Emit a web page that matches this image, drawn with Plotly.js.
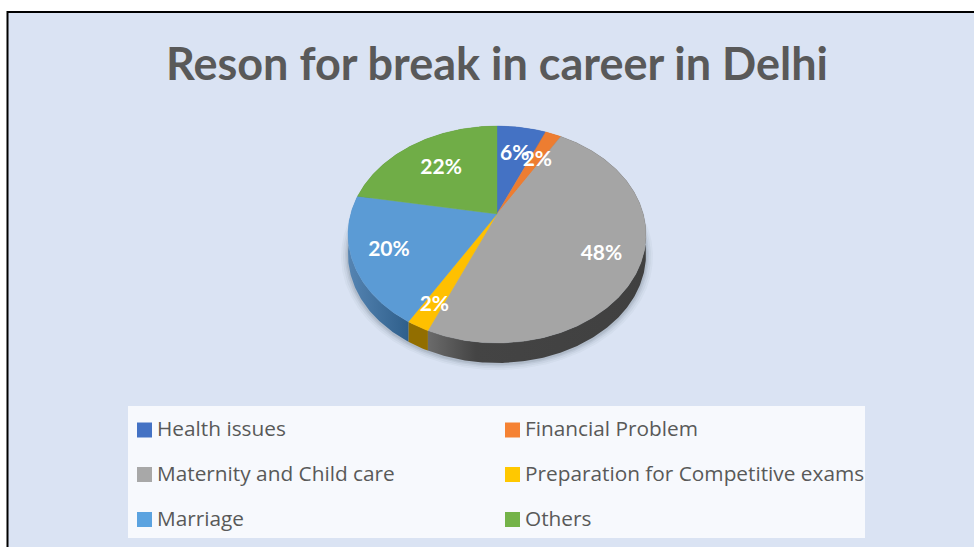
<!DOCTYPE html>
<html>
<head>
<meta charset="utf-8">
<script src="https://cdn.plot.ly/plotly-3.0.1.min.js"></script>
<style>html,body{margin:0;padding:0;background:#fff}#chart{width:974px;height:547px}</style>
</head>
<body>
<div id="chart"></div>
<script>
// Reasons for a career break, in percent of responses
const categories = ['Health issues', 'Financial Problem', 'Maternity and Child care',
  'Preparation for Competitive exams', 'Marriage', 'Others'];
const shares = [6, 2, 48, 2, 20, 22];
const percentLabels = ['6%', '2%', '48%', '2%', '20%', '22%'];
const topColors = ['#4472c4', '#ed7d31', '#a5a5a5', '#ffc000', '#5b9bd5', '#70ad47'];
const legendColors = ['#4472c4', '#f58233', '#a8a8a8', '#ffc800', '#5ba3e0', '#74b349'];
const labelRadius = [0.68, 0.67, 0.75, 0.82, 0.76, 0.65];
const labelTurn = [0, 0.5, 3.5, 0, 0, 1.5];

const W = 974, H = 547;
const apexX = 497, apexY = 214;          // pie centre on the page
const A = 146.3, B = 104.6, K = 0.189;   // tilted-disc projection
const WARP = 1.07;                       // widens slices near the vertical, as the tilt does
const DEPTH = 20;
const LABEL_DROP = 2.5;

// Project a point of the unit disc on to the tilted plane (y up, axes in page pixels)
function project(r, deg) {
  let t = deg * Math.PI / 180;
  const s = Math.sin(t), c = Math.cos(t);
  t += Math.atan2((WARP - 1) * s * c, c * c + WARP * s * s);
  const x = r * Math.sin(t), y = r * Math.cos(t), d = 1 + K * y;
  return [A * x / d, B * y / d];
}
function rimPoints(a0, a1) {
  const n = Math.max(2, Math.ceil((a1 - a0) * 1.5));
  const out = [];
  for (let i = 0; i <= n; i++) out.push(project(1, a0 + (a1 - a0) * i / n));
  return out;
}
const total = shares.reduce((s, v) => s + v, 0);
const bounds = [0];
shares.forEach(v => bounds.push(bounds[bounds.length - 1] + v / total * 360));

const base = {type: 'scatter', mode: 'lines', fill: 'toself', hoverinfo: 'skip', showlegend: false};
const traces = [];

// Soft shadow under the front of the pie
[[7, 0.035], [5, 0.05], [3, 0.07], [1.5, 0.09]].forEach(([grow, alpha]) => {
  const ring = rimPoints(0, 360);
  traces.push(Object.assign({}, base, {
    x: ring.map(p => p[0] * (1 + grow / 150)),
    y: ring.map(p => p[1] * (1 + grow / 150) - DEPTH - 1),
    fillcolor: 'rgba(40,50,70,' + alpha + ')', line: {width: 0}
  }));
});

// Side wall of each slice
const sideStyle = [
  {fillcolor: '#2f528f'}, {fillcolor: '#ae5a21'},
  {fillgradient: {type: 'horizontal', colorscale: [[0, '#6b6b6b'], [0.22, '#444444'], [1, '#404040']]}},
  {fillcolor: '#926e00'},
  {fillgradient: {type: 'horizontal', colorscale: [[0, '#5584b2'], [1, '#2f5f8b']]}},
  {fillcolor: '#4e7a32'}
];
shares.forEach((v, i) => {
  const rim = rimPoints(bounds[i], bounds[i + 1]);
  const low = rim.slice().reverse().map(p => [p[0], p[1] - DEPTH]);
  const poly = rim.concat(low);
  traces.push(Object.assign({}, base, sideStyle[i], {
    x: poly.map(p => p[0]), y: poly.map(p => p[1]), line: {width: 0}
  }));
});

// Top face of each slice
shares.forEach((v, i) => {
  const poly = [[0, 0]].concat(rimPoints(bounds[i], bounds[i + 1]), [[0, 0]]);
  traces.push(Object.assign({}, base, {
    name: categories[i],
    x: poly.map(p => p[0]), y: poly.map(p => p[1]),
    fillcolor: topColors[i], line: {color: topColors[i], width: 0.4}
  }));
});

// Percentage labels inside the slices
const labelPts = shares.map((v, i) =>
  project(labelRadius[i], (bounds[i] + bounds[i + 1]) / 2 + labelTurn[i]));
traces.push({
  type: 'scatter', mode: 'text', hoverinfo: 'skip', showlegend: false, cliponaxis: false,
  x: labelPts.map(p => p[0]), y: labelPts.map(p => p[1] - LABEL_DROP),
  text: percentLabels, textposition: 'middle center',
  textfont: {family: 'Lato, Carlito, sans-serif', size: 21, color: '#ffffff', weight: 700}
});

// Two-column key below the pie: swatches, then their captions
const keyRows = [430, 474.5, 519.5], swatchCols = [144.5, 512.5], captionCols = [157, 525];
const keyY = categories.map((c, i) => apexY - keyRows[Math.floor(i / 2)]);
traces.push({
  type: 'scatter', mode: 'markers', hoverinfo: 'skip', showlegend: false, cliponaxis: false,
  x: categories.map((c, i) => swatchCols[i % 2] - apexX), y: keyY,
  marker: {symbol: 'square', size: 15, color: legendColors}
});
traces.push({
  type: 'scatter', mode: 'text', hoverinfo: 'skip', showlegend: false, cliponaxis: false,
  x: categories.map((c, i) => captionCols[i % 2] - apexX), y: keyY.map(v => v - 1),
  text: categories, textposition: 'middle right',
  textfont: {family: '"Open Sans", "Noto Sans", sans-serif', size: 20.8, color: '#595959'}
});

const layout = {
  width: W, height: H,
  margin: {l: 0, r: 0, t: 0, b: 0},
  paper_bgcolor: '#ffffff', plot_bgcolor: 'rgba(0,0,0,0)',
  showlegend: false,
  title: {
    text: 'Reson for break in career in Delhi',
    x: 497 / W, xanchor: 'center', xref: 'paper',
    y: 1 - 64 / H, yanchor: 'middle', yref: 'paper',
    font: {family: 'Lato, Carlito, sans-serif', size: 45, color: '#595959', weight: 700}
  },
  xaxis: {range: [-apexX, W - apexX], visible: false, fixedrange: true},
  yaxis: {range: [apexY - H, apexY], visible: false, fixedrange: true},
  shapes: [
    {type: 'rect', xref: 'paper', yref: 'paper', layer: 'below',
     x0: 8 / W, x1: 1, y0: 0, y1: 1 - 13 / H, fillcolor: '#dae3f3', line: {width: 0}},
    {type: 'line', xref: 'paper', yref: 'paper', layer: 'below',
     x0: 7.5 / W, x1: 1, y0: 1 - 12 / H, y1: 1 - 12 / H, line: {color: '#000000', width: 2}},
    {type: 'line', xref: 'paper', yref: 'paper', layer: 'below',
     x0: 7.5 / W, x1: 7.5 / W, y0: 0, y1: 1 - 11 / H, line: {color: '#000000', width: 2}},
    {type: 'rect', xref: 'paper', yref: 'paper', layer: 'below',
     x0: 128 / W, x1: 865 / W, y0: 1 - 538 / H, y1: 1 - 406 / H, fillcolor: '#f7f9fd', line: {width: 0}}
  ]
};

Plotly.newPlot('chart', traces, layout, {displayModeBar: false, staticPlot: true});
</script>
</body>
</html>
